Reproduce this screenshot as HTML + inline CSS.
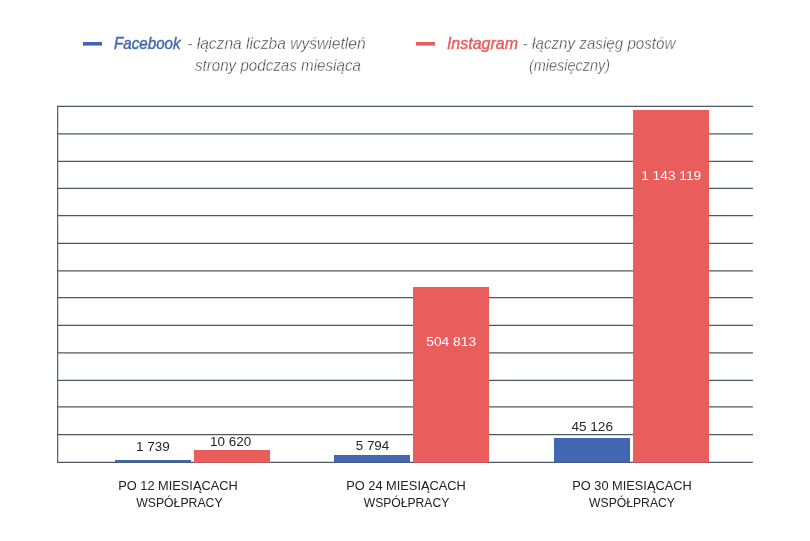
<!DOCTYPE html>
<html><head><meta charset="utf-8">
<style>
html,body{margin:0;padding:0;background:#fff;}
body{width:810px;height:541px;overflow:hidden;position:relative;font-family:"Liberation Sans",sans-serif;}
svg{position:absolute;left:0;top:0;will-change:transform;}
text{font-family:"Liberation Sans",sans-serif;}
.lg{font-size:17px;font-style:italic;fill:#424242;stroke:#fff;stroke-width:0.4px;}
.lb{font-size:17px;font-style:italic;stroke-width:0.45px;}
.ax{font-size:12px;fill:#222;}
.v{font-size:13px;fill:#262626;}
.vw{font-size:13px;fill:#fff;}
</style></head><body>
<svg width="810" height="541" viewBox="0 0 810 541">
<rect width="810" height="541" fill="#fff"/>
<g stroke="#4a5965" stroke-width="1.25" fill="none">
<line x1="57.1" y1="106.44" x2="752.9" y2="106.44"/>
<line x1="57.1" y1="133.90" x2="752.9" y2="133.90"/>
<line x1="57.1" y1="161.30" x2="752.9" y2="161.30"/>
<line x1="57.1" y1="188.40" x2="752.9" y2="188.40"/>
<line x1="57.1" y1="215.60" x2="752.9" y2="215.60"/>
<line x1="57.1" y1="243.40" x2="752.9" y2="243.40"/>
<line x1="57.1" y1="270.95" x2="752.9" y2="270.95"/>
<line x1="57.1" y1="297.60" x2="752.9" y2="297.60"/>
<line x1="57.1" y1="325.30" x2="752.9" y2="325.30"/>
<line x1="57.1" y1="352.80" x2="752.9" y2="352.80"/>
<line x1="57.1" y1="380.30" x2="752.9" y2="380.30"/>
<line x1="57.1" y1="406.95" x2="752.9" y2="406.95"/>
<line x1="57.1" y1="434.50" x2="752.9" y2="434.50"/>
<line x1="57.1" y1="462.35" x2="752.9" y2="462.35"/>
<line x1="57.65" y1="105.8" x2="57.65" y2="462.9" stroke-width="1.15"/>
</g>
<rect x="115" y="460" width="76" height="2.3" fill="#4267b2"/>
<rect x="194" y="450" width="76" height="12.7" fill="#e95d5c"/>
<rect x="334" y="455" width="76" height="7.3" fill="#4267b2"/>
<rect x="413" y="287" width="76" height="175.7" fill="#e95d5c"/>
<rect x="554" y="438" width="76" height="24.3" fill="#4267b2"/>
<rect x="633" y="110" width="76" height="352.7" fill="#e95d5c"/>
<rect x="83" y="42" width="19" height="3.6" fill="#4267b2"/>
<rect x="416" y="42" width="19" height="3.6" fill="#e95d5c"/>
<text class="lb" id="fb" x="114" y="49.4" textLength="66.6" lengthAdjust="spacingAndGlyphs" fill="#4267b2" stroke="#4267b2">Facebook</text>
<text class="lg" id="fb1" x="187.2" y="49.4" textLength="178.4" lengthAdjust="spacingAndGlyphs">- łączna liczba wyświetleń</text>
<text class="lg" id="fb2" x="194.9" y="71.4" textLength="166" lengthAdjust="spacingAndGlyphs">strony podczas miesiąca</text>
<text class="lb" id="ig" x="446.9" y="49.4" textLength="71.2" lengthAdjust="spacingAndGlyphs" fill="#e95d5c" stroke="#e95d5c">Instagram</text>
<text class="lg" id="ig1" x="522.8" y="49.4" textLength="152.7" lengthAdjust="spacingAndGlyphs">- łączny zasięg postów</text>
<text class="lg" id="ig2" x="529" y="71.4" textLength="81" lengthAdjust="spacingAndGlyphs">(miesięczny)</text>
<text class="v" id="v1" x="153" y="451.3" text-anchor="middle" textLength="33.8" lengthAdjust="spacingAndGlyphs">1 739</text>
<text class="v" id="v2" x="230.7" y="446" text-anchor="middle" textLength="41.2" lengthAdjust="spacingAndGlyphs">10 620</text>
<text class="v" id="v3" x="372.5" y="449.6" text-anchor="middle" textLength="33.5" lengthAdjust="spacingAndGlyphs">5 794</text>
<text class="vw" id="v4" x="451.2" y="346.2" text-anchor="middle" textLength="49.8" lengthAdjust="spacingAndGlyphs">504 813</text>
<text class="v" id="v5" x="592.2" y="431.0" text-anchor="middle" textLength="41.5" lengthAdjust="spacingAndGlyphs">45 126</text>
<text class="vw" id="v6" x="671.2" y="180" text-anchor="middle" textLength="60" lengthAdjust="spacingAndGlyphs">1 143 119</text>
<text class="ax" id="a1" x="178" y="490" text-anchor="middle" textLength="119.3" lengthAdjust="spacingAndGlyphs">PO 12 MIESIĄCACH</text>
<text class="ax" id="a1b" x="179.4" y="507.1" text-anchor="middle" textLength="86.3" lengthAdjust="spacingAndGlyphs">WSPÓŁPRACY</text>
<text class="ax" id="a2" x="406" y="490" text-anchor="middle" textLength="119.6" lengthAdjust="spacingAndGlyphs">PO 24 MIESIĄCACH</text>
<text class="ax" id="a2b" x="406.5" y="507.1" text-anchor="middle" textLength="85.5" lengthAdjust="spacingAndGlyphs">WSPÓŁPRACY</text>
<text class="ax" id="a3" x="632" y="490" text-anchor="middle" textLength="119.3" lengthAdjust="spacingAndGlyphs">PO 30 MIESIĄCACH</text>
<text class="ax" id="a3b" x="632" y="507.1" text-anchor="middle" textLength="85.8" lengthAdjust="spacingAndGlyphs">WSPÓŁPRACY</text>
</svg>
</body></html>
